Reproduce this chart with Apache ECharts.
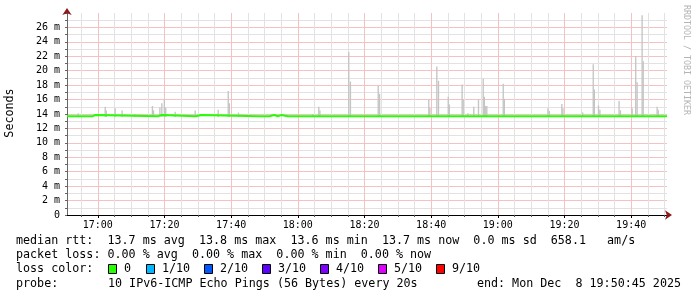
<!DOCTYPE html>
<html><head><meta charset="utf-8">
<script src="https://cdn.jsdelivr.net/npm/echarts@6/dist/echarts.min.js"></script>
<style>html,body{margin:0;padding:0;background:#fff}#c{width:697px;height:297px}</style>
</head><body><div id="c"></div>
<script>
// ---------- data ----------
const startTime = '16:50:45';
const endTime = '19:50:45';
const majorTickLabels = ['17:00','17:20','17:40','18:00','18:20','18:40','19:00','19:20','19:40'];
const firstMinorTick = '16:55';
const lastMinorTick = '19:50';
const minorTickStepMin = 5;
const yMin = 0, yMax = 28, yLabelStep = 2, yMinorStep = 1;

// smoke spikes (time of sample, highest ping in ms)
const spikeTimes = ['16:53:55','17:02:00','17:02:20','17:05:00','17:07:05','17:10:50','17:16:10','17:16:30',
  '17:18:25','17:19:00','17:19:45','17:20:10','17:23:00','17:29:00','17:35:55','17:38:55','17:39:15','17:42:00',
  '18:04:20','18:06:05','18:06:25','18:15:05','18:15:35','18:23:55','18:24:20','18:39:05','18:39:25','18:41:30',
  '18:42:00','18:44:55','18:45:15','18:49:05','18:49:25','18:50:50','18:52:35','18:54:00','18:55:25','18:55:45',
  '18:56:10','18:56:30','19:01:25','19:01:45','19:14:50','19:15:15','19:19:00','19:19:20','19:25:15','19:28:25',
  '19:28:45','19:30:00','19:30:25','19:36:10','19:36:35','19:40:05','19:41:10','19:41:35','19:43:05','19:43:25',
  '19:47:35','19:47:55'];
const spikeTops = [14.1,15.0,14.5,14.8,14.5,14.0,15.1,14.5,
  14.9,15.5,16.0,14.9,14.3,14.5,14.6,17.2,15.5,14.2,
  14.0,15.0,14.5,22.6,18.5,17.9,16.8,16.0,14.9,20.6,
  18.6,16.4,15.3,18.1,16.0,14.1,15.0,16.0,18.9,16.4,
  15.1,15.1,18.2,16.1,14.8,14.4,15.4,14.8,14.2,20.9,
  17.4,15.2,14.6,15.8,14.5,14.8,22.0,18.4,27.7,21.3,
  15.0,14.6];
const smokeBase = 13.6;
const sampleSeconds = 24;

// median rtt (step changes)
const medianTimes = ['16:50:45','16:58:30','16:59:10','17:18:05','17:19:00','17:29:30','17:31:00','17:48:25','17:48:50',
  '17:51:25','17:52:55','17:54:05','17:55:00','17:57:05','17:57:30','18:01:55','18:02:20','18:07:55','18:08:20',
  '18:31:15','18:31:40','18:41:45','18:42:10','18:58:00','18:58:20','19:50:45'];
const medianValues = [13.7,13.85,13.7,13.85,13.7,13.85,13.7,13.85,13.7,
  13.85,13.7,13.85,13.7,13.85,13.7,13.85,13.7,13.85,13.7,
  13.55,13.7,13.85,13.7,13.55,13.7,13.7];

const lossLabels = ['0','1/10','2/10','3/10','4/10','5/10','9/10'];
const lossColors = ['#26ff00','#00b8ff','#0059ff','#5e00ff','#7e00ff','#dd00ff','#ff0000'];

const line1 = 'median rtt:  13.7 ms avg  13.8 ms max  13.6 ms min  13.7 ms now  0.0 ms sd  658.1   am/s';
const line2 = 'packet loss: 0.00 % avg  0.00 % max  0.00 % min  0.00 % now';
const line3 = 'loss color:';
const line4a = 'probe:';
const line4b = '10 IPv6-ICMP Echo Pings (56 Bytes) every 20s';
const line4c = 'end: Mon Dec  8 19:50:45 2025';
const yName = 'Seconds';
const watermark = 'RRDTOOL / TOBI OETIKER';

// ---------- helpers ----------
function toMin(s){const p=s.split(':').map(Number);return p[0]*60+p[1]+(p[2]||0)/60;}
function fmtMin(v){const h=Math.floor(v/60),m=Math.round(v-h*60);return String(h).padStart(2,'0')+':'+String(m).padStart(2,'0');}
const X_MIN=toMin(startTime), X_MAX=toMin(endTime);
const majorVals = majorTickLabels.map(toMin);
const minorVals = [];
for(let v=toMin(firstMinorTick); v<=toMin(lastMinorTick)+1e-9; v+=minorTickStepMin){
  if(!majorVals.some(m=>Math.abs(m-v)<1e-6)) minorVals.push(v);
}

const MONO='DejaVu Sans Mono';
const MINOR='#e2e2e2', MAJOR='#f3c3c3', ARROW='#8b1a1a';

const chart = echarts.init(document.getElementById('c'), null, {renderer:'canvas'});

const lgX=[108,146,204,262,320,378,436];
const graphics=[
  {type:'text',x:16,y:241,style:{text:line1,font:'11.7px '+MONO,fill:'#000',textVerticalAlign:'middle'}},
  {type:'text',x:16,y:255,style:{text:line2,font:'11.7px '+MONO,fill:'#000',textVerticalAlign:'middle'}},
  {type:'text',x:16,y:269,style:{text:line3,font:'11.7px '+MONO,fill:'#000',textVerticalAlign:'middle'}},
  {type:'text',x:16,y:284,style:{text:line4a,font:'11.7px '+MONO,fill:'#000',textVerticalAlign:'middle'}},
  {type:'text',x:108,y:284,style:{text:line4b,font:'11.7px '+MONO,fill:'#000',textVerticalAlign:'middle'}},
  {type:'text',x:681,y:284,style:{text:line4c,font:'11.7px '+MONO,fill:'#000',textAlign:'right',textVerticalAlign:'middle'}},
  {type:'text',x:10,y:113,rotation:Math.PI/2,style:{text:yName,font:'11.7px '+MONO,fill:'#000',textAlign:'center',textVerticalAlign:'middle'}},
  {type:'text',x:686,y:5,rotation:-Math.PI/2,style:{text:watermark,font:'8.3px '+MONO,fill:'#b4b4b4',textAlign:'left',textVerticalAlign:'middle'}}
];
lossLabels.forEach((l,i)=>{
  graphics.push({type:'rect',shape:{x:lgX[i]+0.5,y:264.5,width:8,height:9},style:{fill:lossColors[i],stroke:'#000',lineWidth:1}});
  graphics.push({type:'text',x:lgX[i]+16,y:269,style:{text:l,font:'11.7px '+MONO,fill:'#000',textVerticalAlign:'middle'}});
});

const xBase={type:'value',min:X_MIN,max:X_MAX,position:'bottom',gridIndex:0};
const yBase={type:'value',min:yMin,max:yMax,position:'left',gridIndex:0};

chart.setOption({
  animation:false,
  backgroundColor:'#fff',
  grid:{left:67,right:30,top:13,bottom:82},
  xAxis:[
    Object.assign({},xBase,{axisLine:{show:true,lineStyle:{color:ARROW,width:1},symbol:['none','arrow'],symbolSize:[7,7],symbolOffset:[0,5]},
      axisTick:{show:false},axisLabel:{show:false},splitLine:{show:false}}),
    Object.assign({},xBase,{axisLine:{show:true,lineStyle:{color:'#000',width:1}},
      axisTick:{show:true,length:2,customValues:minorVals,lineStyle:{color:'#555'}},axisLabel:{show:false},
      splitLine:{show:true,lineStyle:{color:MINOR,width:1}}}),
    Object.assign({},xBase,{axisLine:{show:false},
      axisTick:{show:true,length:3,customValues:majorVals,lineStyle:{color:'#000'}},
      axisLabel:{show:true,customValues:majorVals,formatter:v=>fmtMin(v),fontFamily:MONO,fontSize:10,color:'#000',margin:5},
      splitLine:{show:true,lineStyle:{color:MAJOR,width:1}}})
  ],
  yAxis:[
    Object.assign({},yBase,{axisLine:{show:true,lineStyle:{color:ARROW,width:1},symbol:['none','arrow'],symbolSize:[7,7],symbolOffset:[0,5]},
      axisTick:{show:false},axisLabel:{show:false},splitLine:{show:false}}),
    Object.assign({},yBase,{interval:yMinorStep,axisLine:{show:true,lineStyle:{color:'#666',width:1}},
      axisTick:{show:true,length:2,lineStyle:{color:'#666'}},axisLabel:{show:false},
      splitLine:{show:true,showMaxLine:false,showMinLine:false,lineStyle:{color:MINOR,width:1}}}),
    Object.assign({},yBase,{interval:yLabelStep,axisLine:{show:false},axisTick:{show:false},
      axisLabel:{show:true,showMaxLabel:false,formatter:v=>v===0?'0':v+' m',fontFamily:MONO,fontSize:10,color:'#000',margin:7},
      splitLine:{show:true,showMaxLine:false,showMinLine:false,lineStyle:{color:MAJOR,width:1}}})
  ],
  series:[
    {type:'custom',xAxisIndex:2,yAxisIndex:2,clip:true,z:2,
     data:spikeTimes.map((t,i)=>[toMin(t),smokeBase,spikeTops[i]]),
     encode:{x:0,y:[1,2]},
     renderItem:function(params,api){
       const x=api.value(0);
       const lo=api.coord([x,api.value(1)]);
       const hi=api.coord([x+sampleSeconds/60,api.value(2)]);
       return {type:'rect',shape:{x:lo[0],y:hi[1],width:hi[0]-lo[0],height:lo[1]-hi[1]},style:{fill:'#c4c4c4'}};
     }},
    {type:'line',xAxisIndex:2,yAxisIndex:2,z:3,step:'end',symbol:'none',
     data:medianTimes.map((t,i)=>[toMin(t),medianValues[i]]),
     lineStyle:{color:'#22ff00',width:2}}
  ],
  graphic:graphics
});
</script></body></html>
